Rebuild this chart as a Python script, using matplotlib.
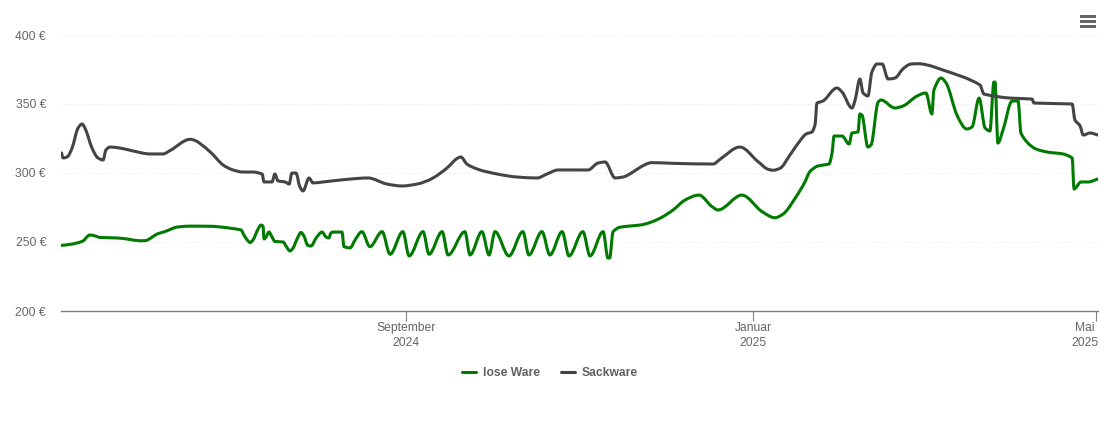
import matplotlib
matplotlib.use("Agg")
import matplotlib.pyplot as plt
from matplotlib.lines import Line2D
from matplotlib.patches import PathPatch, Rectangle
from matplotlib.path import Path
from matplotlib.transforms import ScaledTranslation

plt.rcParams["font.family"] = ["Liberation Sans", "DejaVu Sans"]

####################################################################
# Data : days counted from 3 May 2024, prices in Euro
####################################################################

lose_days = [
    0, 3.9, 7.7, 9.5, 10.2, 12.0, 13.7, 20.0, 24.3, 27.8, 29.9, 31.3, 33.4, 36.6, 41.1, 45.4,
    52.4, 57.7, 63.3, 64.3, 65.8, 66.5, 67.5, 69.3, 70.3, 71.0, 71.4, 72.1, 73.1, 74.2, 75.2,
    78.1, 79.1, 80.5, 81.6, 83.0, 84.4, 85.4, 86.8, 87.9, 89.7, 91.8, 93.2, 94.2, 94.9, 95.6,
    98.8, 99.5, 101.6, 103.4, 105.8, 108.6, 112.9, 115.7, 120.2, 122.4, 127.3, 129.4, 134.0,
    136.1, 142.0, 143.8, 148.0, 150.5, 152.6, 157.5, 162.4, 164.5, 169.1, 171.9, 176.2, 178.6,
    183.5, 186.0, 190.6, 192.3, 192.9, 194.1, 196.5, 200.1, 203.6, 210.6, 215.2, 219.4, 224.3,
    228.9, 231.0, 239.4, 246.5, 251.0, 253.9, 258.1, 261.6, 263.3,
    266.2, 270.0, 271.1, 271.8, 274.6, 277.1, 278.1, 280.2, 280.9, 281.6, 283.7,
    284.8, 287.3, 288.3, 293.2, 296.0, 301.0, 304.1, 306.2, 306.9, 309.4, 311.2, 315.0, 318.5,
    320.3, 322.8, 324.9, 326.6, 328.0, 328.4, 329.4, 331.2, 334.4, 336.5, 337.5, 339.6, 342.8,
    346.7, 352.3, 355.5, 356.2, 358.6, 361.1, 364.6,
]
lose_prices = [
    247.5, 248.5, 250.7, 254.4, 255.1, 254.4, 253.3, 252.9, 251.8, 250.9, 251.1, 252.5, 255.4,
    257.6, 260.9, 261.5, 261.4, 260.5, 258.7, 255.1, 250.7, 249.6, 251.5, 259.4, 262.3, 261.6,
    252.2, 253.6, 257.2, 253.6, 250.4, 250.0, 247.1, 243.5, 245.7, 252.2, 256.9, 254.4, 247.5,
    247.1, 252.9, 257.2, 253.6, 252.9, 256.5, 257.2, 257.2, 246.6, 245.7, 251.5, 257.5, 246.6,
    257.5, 241.1, 257.5, 239.9, 257.5, 241.1, 257.5, 240.6, 257.5, 240.6, 257.5, 240.6, 257.5,
    239.9, 257.5, 240.6, 257.5, 240.6, 257.5, 239.9, 257.5, 239.9, 257.5, 238.4, 238.4, 257.5,
    260.7, 261.6, 262.3, 267.2, 273.2, 280.4, 284.0, 275.6, 273.2, 284.0, 272.0, 267.6, 270.3,
    281.7, 293.7, 301.0, 305.1, 306.5, 314.5, 326.8,
    326.8, 321.0, 329.0, 329.7, 342.8, 342.0, 318.8, 320.3, 351.4, 352.9, 347.1, 348.5, 355.8,
    358.0, 342.8, 360.1, 368.8, 365.2, 342.0, 331.9, 333.3, 354.3, 332.6, 330.4, 365.9, 365.9,
    321.7, 331.2, 352.2, 352.2, 329.0, 322.5, 317.4, 315.2, 313.8, 310.9, 288.4, 293.5, 293.5,
    295.7,
]

sack_days = [
    0.2, 0.7, 2.1, 3.9, 6.0, 7.4, 8.4, 10.9, 13.0, 14.8, 15.8, 17.2, 20.7, 25.3, 31.3, 35.9,
    38.3, 45.4, 52.4, 57.0, 60.5, 64.0, 67.5, 70.7, 71.4, 74.2, 75.2, 76.3, 78.8, 80.2,
    81.2, 82.6, 84.0, 85.1, 87.2, 88.6, 92.1, 98.1, 101.6, 107.9, 114.6, 119.9, 125.2, 130.8,
    135.7, 139.6, 140.6, 142.7, 146.3, 153.3, 160.3, 167.4, 170.9, 174.8, 185.3, 188.8, 191.3,
    194.8, 197.6, 201.1, 203.6, 207.8, 215.2, 229.3, 231.7, 238.7, 245.1, 248.6,
    250.4, 252.8, 256.3, 259.8, 262.0, 264.0, 265.1, 265.8, 267.9, 272.8, 274.6, 278.1, 279.2,
    280.9, 282.0, 283.7, 285.1, 286.9, 288.7, 290.8, 293.2, 296.0, 299.0, 301.5, 304.5, 310.1,
    323.1, 324.5, 333.7, 341.4, 342.1, 355.5, 356.5, 358.3, 359.4, 361.8, 364.6,
]
sack_prices = [
    314.5, 310.9, 311.6, 318.1, 332.6, 335.5, 332.6, 318.1, 310.9, 309.4, 316.7, 318.8, 318.1,
    316.0, 313.8, 313.8, 316.2, 324.4, 315.4, 305.8, 302.2, 300.7, 300.7, 299.3,
    293.5, 293.5, 299.3, 294.2, 293.5, 292.0, 300.0, 300.0, 289.9, 287.0, 296.4, 292.8, 293.5,
    294.9, 295.6, 296.4, 292.0, 290.6, 292.0, 296.4, 303.6, 310.9, 311.6, 306.5, 302.9, 299.3,
    297.1, 296.4, 299.3, 302.2, 302.2, 307.2, 308.0, 296.4, 297.1, 300.7, 304.1, 307.5, 307.0,
    306.5, 309.9, 318.8, 308.2, 302.7, 302.0, 303.4, 313.0, 323.3, 328.3, 329.7,
    334.8, 350.7, 352.2, 361.6, 358.7, 347.1, 352.9, 368.1, 358.0, 355.8, 373.2, 379.0, 379.0,
    368.1, 368.8, 375.4, 379.0, 379.2, 378.3, 374.6, 363.8, 357.2, 354.3, 353.6, 350.7, 350.0,
    338.4, 334.1, 327.5, 329.0, 327.5,
]

y_ticks = [200, 250, 300, 350, 400]
x_tick_days = [121.3, 243.3, 364.0]
x_tick_labels = ["September\n2024", "Januar\n2025", "Mai\n2025"]

GREEN = "#007a00"
GRAY = "#444444"
TEXT = "#666666"


####################################################################
# Smooth curve through the points, flat at peaks, no overshoot
####################################################################

def spline_path(xs, ys):
    n = len(xs)
    h = [xs[i + 1] - xs[i] for i in range(n - 1)]
    d = [(ys[i + 1] - ys[i]) / h[i] for i in range(n - 1)]

    m = [d[0]] + [0.0] * (n - 2) + [d[-1]]
    for i in range(1, n - 1):
        if d[i - 1] * d[i] > 0:
            slope = (d[i - 1] * h[i] + d[i] * h[i - 1]) / (h[i - 1] + h[i])
            limit = 1.5 * min(abs(d[i - 1]), abs(d[i]))
            m[i] = max(-limit, min(limit, slope))

    verts = [(xs[0], ys[0])]
    codes = [Path.MOVETO]
    for i in range(n - 1):
        verts += [(xs[i] + h[i] / 3, ys[i] + m[i] * h[i] / 3),
                  (xs[i + 1] - h[i] / 3, ys[i + 1] - m[i + 1] * h[i] / 3),
                  (xs[i + 1], ys[i + 1])]
        codes += [Path.CURVE4, Path.CURVE4, Path.CURVE4]
    return Path(verts, codes)


####################################################################
# Figure and axes
####################################################################

W, H = 1110, 422
fig = plt.figure(figsize=(W / 100, H / 100), dpi=100)
ax = fig.add_axes([61 / W, 1 - 311 / H, (1098 - 61) / W, (311 - 35) / H])
ax.set_xlim(0, 364.6)
ax.set_ylim(200, 400)

for side in ["top", "left", "right"]:
    ax.spines[side].set_visible(False)
ax.spines["bottom"].set_color("#808080")
ax.spines["bottom"].set_linewidth(1.0)

ax.set_yticks(y_ticks)
ax.set_yticklabels([f"{v} €" for v in y_ticks])
ax.tick_params(axis="y", length=0, pad=10.8, labelsize=8.7, labelcolor=TEXT)
ax.grid(axis="y", color="#e6e6e6", linewidth=0.7, linestyle=(0, (1, 2)))
ax.set_axisbelow(True)

ax.set_xticks(x_tick_days)
ax.set_xticklabels(x_tick_labels, linespacing=1.25)
ax.tick_params(axis="x", length=7.2, width=0.8, color="#808080", pad=1.0, labelsize=8.7, labelcolor=TEXT)

# last label sits right aligned at the edge of the chart
mai = ax.get_xticklabels()[-1]
mai.set_ha("right")
mai.set_multialignment("center")
mai.set_transform(mai.get_transform() + ScaledTranslation(2.5 / 100, 0, fig.dpi_scale_trans))

####################################################################
# Series
####################################################################

for days, prices, colour in [(lose_days, lose_prices, GREEN), (sack_days, sack_prices, GRAY)]:
    ax.add_patch(PathPatch(spline_path(days, prices), fill=False, edgecolor=colour, linewidth=2.2,
                           capstyle="round", joinstyle="round"))

####################################################################
# Legend and menu icon
####################################################################

handles = [Line2D([], [], color=GREEN, linewidth=2.2, solid_capstyle="round"),
           Line2D([], [], color=GRAY, linewidth=2.2, solid_capstyle="round")]
leg = fig.legend(handles, ["lose Ware", "Sackware"], loc="center", bbox_to_anchor=(550 / W, 1 - 373 / H),
                 ncol=2, frameon=False, handlelength=1.15, handletextpad=0.55, columnspacing=1.75,
                 prop={"size": 8.7, "weight": "bold"})
for text in leg.get_texts():
    text.set_color("#606060")

for top in [15, 20, 25]:
    fig.add_artist(Rectangle((1080 / W, 1 - (top + 3) / H), 16 / W, 3 / H, transform=fig.transFigure,
                             facecolor="#666666", edgecolor="none"))

fig.savefig("out.png", dpi=100, facecolor="white")
